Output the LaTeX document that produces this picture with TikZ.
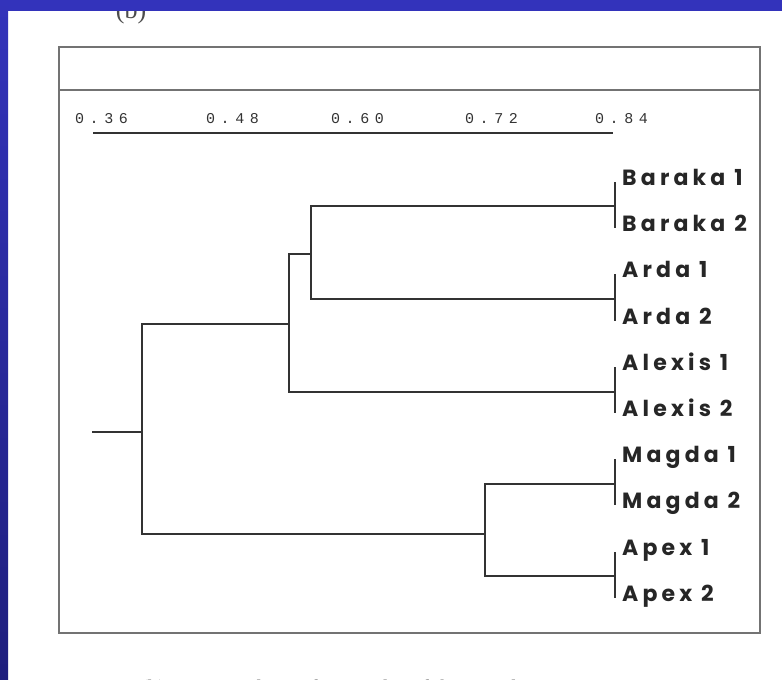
\documentclass[tikz,border=0pt]{standalone}
\usepackage{fontspec}
\setmainfont{Liberation Serif}
\newfontfamily\leaffont{Poppins}[LetterSpace=19]
\newfontfamily\tickfont{Liberation Mono}[LetterSpace=37]
\usetikzlibrary{positioning}
\definecolor{slideblue}{RGB}{51,51,187}
\definecolor{slidedark}{RGB}{30,30,125}
\tikzstyle{leaf} = [anchor=base west, inner sep=0pt, font=\leaffont\bfseries\fontsize{22}{22}\selectfont, text=black!85]
\tikzstyle{scalelabel} = [anchor=base west, inner sep=0pt, font=\tickfont\fontsize{15}{15}\selectfont, text=black!80]
\tikzstyle{branch} = [line width=2pt, draw=black!80]
\tikzstyle{frame} = [line width=1.3pt, draw=black!55]

\begin{document}
\begin{tikzpicture}[x=1pt, y=-1pt]
\useasboundingbox (0,0) rectangle (782,680);
% cut-off panel letter and caption
\node[anchor=base, inner sep=0pt, font=\fontsize{26}{26}\selectfont, text=black!70] (panel) at (131,18) {(b)};
\node[anchor=base west, inner sep=0pt, font=\fontsize{21}{21}\selectfont, text=black!45] (caption) at (58,694) {Figure 5. (b) AFLP analysis of 8 samples of the 15 cultivars};
% box and scale
\draw[frame] (59,47) rectangle (760,633);
\draw[frame] (59,90) -- (760,90);
\foreach \v/\x in {36/75, 48/206, 60/331, 72/465, 84/595}
  \node[scalelabel] (s\v) at (\x,123) {0.\v};
\coordinate (axl) at (93,133);
\coordinate (axr) at (613,133);
\draw[branch, line width=1.5pt] (axl) -- (axr);
% leaves
\foreach \name/\txt/\y in {b1/Baraka\ 1/185, b2/Baraka\ 2/231, a1/Arda\ 1/277, a2/Arda\ 2/324, x1/Alexis\ 1/370, x2/Alexis\ 2/416, m1/Magda\ 1/462, m2/Magda\ 2/508, p1/Apex\ 1/555, p2/Apex\ 2/601}
{
  \node[leaf] (\name) at (622,\y) {\txt};
  \coordinate (\name t) at (615,\y-3);
}
% joins
\coordinate (bj) at (615,206);
\coordinate (aj) at (615,299);
\coordinate (xj) at (615,392);
\coordinate (mj) at (615,484);
\coordinate (pj) at (615,576);
\coordinate (ba) at (311,254);
\coordinate (bax) at (289,324);
\coordinate (mp) at (485,534);
\coordinate (root) at (142,432);
\coordinate (stub) at (92,432);
\draw[branch] (b1t) -- (b2t);
\draw[branch] (a1t) -- (a2t);
\draw[branch] (x1t) -- (x2t);
\draw[branch] (m1t) -- (m2t);
\draw[branch] (p1t) -- (p2t);
\draw[branch] (bj) -| (ba) |- (aj);
\draw[branch] (ba) -| (bax) |- (xj);
\draw[branch] (mj) -| (mp) |- (pj);
\draw[branch] (bax) -| (root) |- (mp);
\draw[branch] (stub) -- (root);
% slide border
\fill[slideblue] (0,0) rectangle (782,11);
\shade[top color=slideblue, bottom color=slidedark] (0,0) rectangle (8,680);
\end{tikzpicture}
\end{document}
